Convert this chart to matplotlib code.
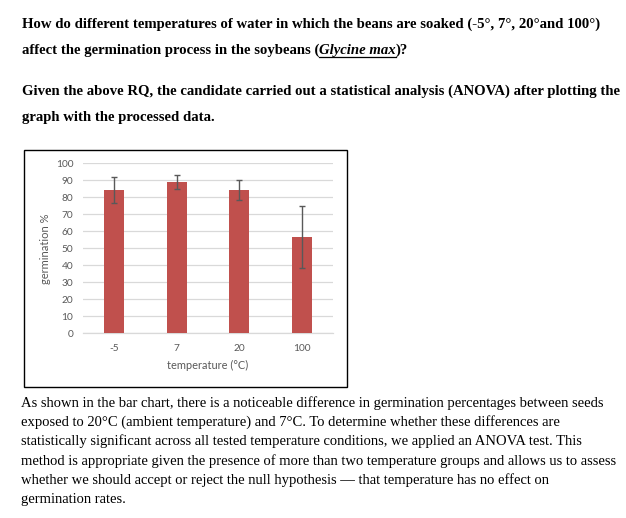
import matplotlib
matplotlib.use("Agg")
import matplotlib.pyplot as plt
from matplotlib.patches import Rectangle
from matplotlib.lines import Line2D

W, H = 626, 518
DPI = 100

# ---- data ----
categories = ["-5", "7", "20", "100"]
germination = [84.2, 89.1, 84.4, 56.6]
errors = [7.7, 4.3, 6.0, 18.2]
y_ticks = [0, 10, 20, 30, 40, 50, 60, 70, 80, 90, 100]

question_lines = [
    "How do different temperatures of water in which the beans are soaked (-5\u00b0, 7\u00b0, 20\u00b0and 100\u00b0)",
    "affect the germination process in the soybeans (",
]
species = "Glycine max"
question_end = ")?"
task_lines = [
    "Given the above RQ, the candidate carried out a statistical analysis (ANOVA) after plotting the",
    "graph with the processed data.",
]
para_lines = [
    "As shown in the bar chart, there is a noticeable difference in germination percentages between seeds",
    "exposed to 20\u00b0C (ambient temperature) and 7\u00b0C. To determine whether these differences are",
    "statistically significant across all tested temperature conditions, we applied an ANOVA test. This",
    "method is appropriate given the presence of more than two temperature groups and allows us to assess",
    "whether we should accept or reject the null hypothesis \u2014 that temperature has no effect on",
    "germination rates.",
]

fig = plt.figure(figsize=(W / DPI, H / DPI), dpi=DPI)
fig.patch.set_facecolor("white")

def fx(px):
    return px / W

def fy(py):
    return 1 - py / H

SERIF = "Liberation Serif"
FS_B = 10.58
FS = 10.55

# ---- top text ----
x0 = 21.5
fig.text(fx(x0), fy(28.3), question_lines[0], family=SERIF, weight="bold", fontsize=FS_B, va="baseline")
t2 = fig.text(fx(x0), fy(54.3), question_lines[1], family=SERIF, weight="bold", fontsize=FS_B, va="baseline")
fig.canvas.draw()
r = fig.canvas.get_renderer()
bb = t2.get_window_extent(r)
t3 = fig.text(bb.x1 / W, fy(54.3), species, family=SERIF, weight="bold", style="italic", fontsize=FS_B, va="baseline")
bb3 = t3.get_window_extent(r)
fig.add_artist(Line2D([bb3.x0 / W, bb3.x1 / W], [fy(56.5), fy(56.5)], color="black", lw=0.9, transform=fig.transFigure))
fig.text(bb3.x1 / W, fy(54.3), question_end, family=SERIF, weight="bold", fontsize=FS_B, va="baseline")

fig.text(fx(x0), fy(94.7), task_lines[0], family=SERIF, weight="bold", fontsize=FS_B, va="baseline")
fig.text(fx(x0), fy(120.7), task_lines[1], family=SERIF, weight="bold", fontsize=FS_B, va="baseline")

# ---- chart box ----
fig.add_artist(Rectangle((fx(23.5), fy(386.7)), (347.3 - 23.5) / W, (386.7 - 150) / H,
                         transform=fig.transFigure, fill=False, edgecolor="black", lw=1.0))

# ---- axes ----
left, right, top, bottom = 82.7, 333.3, 163.3, 333.3
ax = fig.add_axes([fx(left), fy(bottom), (right - left) / W, (bottom - top) / H])
ax.set_facecolor("white")
xpos = list(range(len(categories)))
ax.bar(xpos, germination, width=0.32, color="#C0504D", zorder=3)
ax.errorbar(xpos, germination, yerr=errors, fmt="none", ecolor="#595959", elinewidth=1.0,
            capsize=2.1, capthick=1.0, zorder=4)
ax.set_xlim(-0.5, len(categories) - 0.5)
ax.set_ylim(0, 100)
ax.set_yticks(y_ticks)
ax.set_xticks(xpos)
ax.set_xticklabels(categories)
ax.grid(axis="y", color="#D9D9D9", lw=0.9, zorder=0)
for s in ["left", "right", "top"]:
    ax.spines[s].set_visible(False)
ax.spines["bottom"].set_color("#D9D9D9")
ax.spines["bottom"].set_linewidth(0.9)
ax.tick_params(axis="both", length=0, labelsize=7.3, labelcolor="#595959")
ax.tick_params(axis="y", pad=6.8)
ax.tick_params(axis="x", pad=7.5)
for lab in ax.get_xticklabels() + ax.get_yticklabels():
    lab.set_family("Lato")
ax.set_ylabel("germination %", family="Lato", fontsize=8.0, color="#595959")
ax.yaxis.set_label_coords((51 - left) / (right - left), 0.5)
ax.set_xlabel("temperature (\u00b0C)", family="Lato", fontsize=7.9, color="#595959", labelpad=5.5)

# ---- paragraph ----
base = 406.7
step = 19.3
for i, line in enumerate(para_lines):
    fig.text(fx(21), fy(base + i * step), line, family=SERIF, fontsize=FS, va="baseline")

fig.savefig("out.png", dpi=DPI, facecolor="white")
